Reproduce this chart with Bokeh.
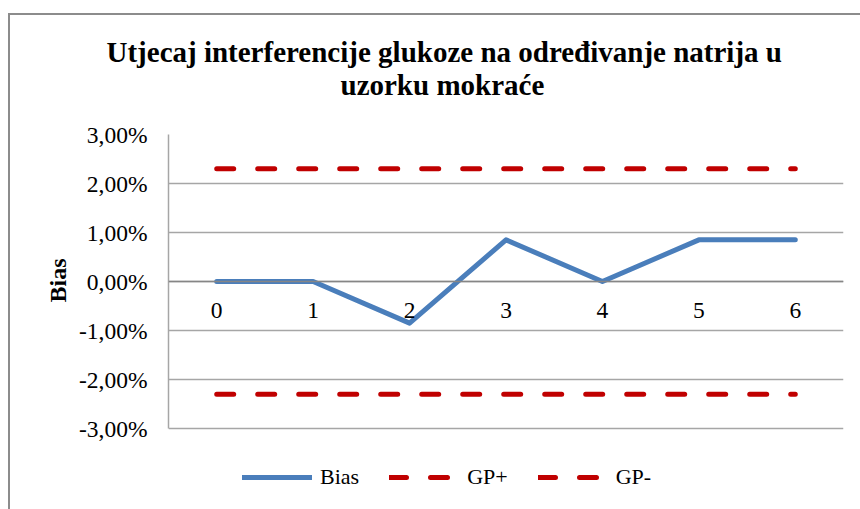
from bokeh.plotting import figure
from bokeh.models import (Range1d, FixedTicker, CustomJSTickFormatter, Span, Title,
                          Legend, LegendItem, ColumnDataSource)
from bokeh.core.properties import value
from bokeh.embed import file_html
from bokeh.resources import INLINE

categories = ["0", "1", "2", "3", "4", "5", "6"]
x_pos = [0, 1, 2, 3, 4, 5, 6]
bias = [0.0, 0.0, -0.85, 0.85, 0.0, 0.85, 0.85]
gp_plus = [2.3, 2.3, 2.3, 2.3, 2.3, 2.3, 2.3]
gp_minus = [-2.3, -2.3, -2.3, -2.3, -2.3, -2.3, -2.3]
y_ticks = [-3, -2, -1, 0, 1, 2, 3]
title_lines = ["Utjecaj interferencije glukoze na određivanje natrija u", "uzorku mokraće"]
y_label = "Bias"

FONT = "Liberation Serif"
BLUE = "#4a7ebb"
RED = "#c00000"
GRID = "#a6a6a6"

# vertical layout: 49 px per 1 %, frame extended below -3 % to host the legend
PX_PER_UNIT = 49.0
EXTRA_BELOW_PX = 77
y_lo = y_ticks[0] - EXTRA_BELOW_PX / PX_PER_UNIT
y_hi = y_ticks[-1]

p = figure(width=850, height=494, output_backend="svg", toolbar_location=None,
           x_range=Range1d(-0.5, 6.5), y_range=Range1d(y_lo, y_hi),
           min_border_left=158, min_border_right=17, min_border_top=119, min_border_bottom=4,
           styles={"margin-left": "10px", "margin-top": "15px",
                   "outline": "2px solid #8c8c8c"})
p.title = None
p.outline_line_color = None
p.background_fill_color = "white"
p.border_fill_color = "white"

p.xaxis.visible = False
p.xgrid.visible = False

ya = p.yaxis[0]
ya.ticker = FixedTicker(ticks=y_ticks)
ya.bounds = (y_ticks[0], y_ticks[-1])
ya.formatter = CustomJSTickFormatter(code="return tick.toFixed(2).replace('.', ',') + '%';")
ya.major_tick_line_color = None
ya.minor_tick_line_color = None
ya.major_tick_out = 0
ya.major_tick_in = 0
ya.axis_line_color = GRID
ya.axis_line_width = 1.5
ya.major_label_standoff = 21
ya.major_label_text_font = FONT
ya.major_label_text_font_size = "23.5px"
ya.major_label_text_color = "black"

p.ygrid.ticker = FixedTicker(ticks=y_ticks)
p.ygrid.grid_line_color = GRID
p.ygrid.grid_line_width = 1.5

p.add_layout(Span(location=0, dimension="width", line_color="#868686", line_width=1.5))

src = ColumnDataSource(dict(x=x_pos, bias=bias, gpp=gp_plus, gpm=gp_minus, lab=categories,
                            zero=[0] * len(x_pos)))

r_gpp = p.line("x", "gpp", source=src, line_color=RED, line_width=5, line_dash="17 24",
               line_cap="round")
r_gpm = p.line("x", "gpm", source=src, line_color=RED, line_width=5, line_dash="17 24",
               line_cap="round")
r_bias = p.line("x", "bias", source=src, line_color=BLUE, line_width=5, line_join="round",
                line_cap="round")

p.text("x", "zero", text="lab", source=src, y_offset=29, text_align="center",
       text_baseline="middle", text_font=value(FONT), text_font_size="23.5px",
       text_color="black")

# second line first: the first title added sits closest to the plot area
p.add_layout(Title(text=title_lines[1], align="left", offset=172, standoff=68,
                   text_font=FONT, text_font_style="bold", text_font_size="29px",
                   text_color="black"), "above")
p.add_layout(Title(text=title_lines[0], align="left", offset=-62, standoff=-71,
                   text_font=FONT, text_font_style="bold", text_font_size="29px",
                   text_color="black"), "above")

# value-axis title, placed beside the tick labels
p.add_layout(Title(text=y_label, align="left", offset=203, standoff=10,
                   text_font=FONT, text_font_style="bold", text_font_size="24px",
                   text_color="black"), "left")

legend = Legend(items=[LegendItem(label="Bias", renderers=[r_bias]),
                       LegendItem(label="GP+", renderers=[r_gpp]),
                       LegendItem(label="GP-", renderers=[r_gpm])],
                location=(74, 15), orientation="horizontal", glyph_width=70, glyph_height=22,
                label_standoff=8, spacing=30, padding=0, margin=0,
                border_line_color=None, background_fill_alpha=0,
                label_text_font=FONT, label_text_font_size="22px", label_text_color="black")
p.add_layout(legend, "center")

open("out.html", "w").write(file_html(p, INLINE))
